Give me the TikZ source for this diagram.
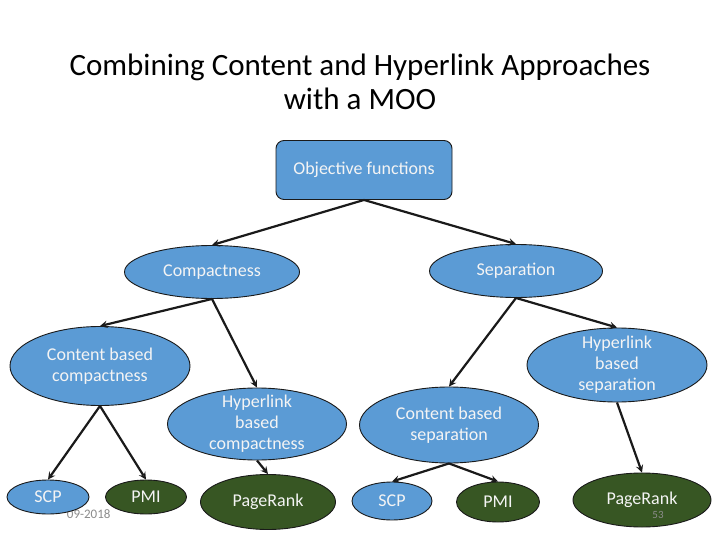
\documentclass[tikz,border=0pt]{standalone}
\usepackage{fontspec}
\setmainfont{Carlito}
\usetikzlibrary{shapes.geometric}
\definecolor{boxblue}{HTML}{5B9BD5}
\definecolor{boxgreen}{HTML}{375623}
\definecolor{edgeline}{HTML}{1A1A1A}
\definecolor{boxtext}{HTML}{F4F4F4}
\definecolor{footgray}{HTML}{8C8C8C}
\begin{document}
\begin{tikzpicture}[x=1pt,y=-1pt,
  bluebox/.style={ellipse,draw=edgeline,line width=0.9pt,fill=boxblue,text=boxtext,align=center,inner xsep=0pt,inner ysep=-12pt,font=\fontsize{18}{21}\selectfont},
  greenbox/.style={bluebox,fill=boxgreen},
  link/.style={->,>=stealth,line width=2.2pt,edgeline}]
\useasboundingbox[fill=white] (0,0) rectangle (720,540);

\node[align=center,font=\fontsize{31}{34}\selectfont] (title) at (360,82) {Combining Content and Hyperlink Approaches\\with a MOO};

\node[draw=edgeline,line width=0.9pt,fill=boxblue,text=boxtext,rounded corners=8pt,minimum width=176pt,minimum height=59pt,font=\fontsize{18}{21}\selectfont] (obj) at (364,170) {Objective functions};

\node[bluebox,minimum width=175pt,minimum height=53pt] (comp) at (212,272) {Compactness};
\node[bluebox,minimum width=173pt,minimum height=53pt] (sep) at (516,271) {Separation};

\node[bluebox,minimum width=180pt,minimum height=79pt] (cbc) at (100,366) {Content based\\compactness};
\node[bluebox,minimum width=179pt,minimum height=72pt] (hbc) at (257,424) {Hyperlink\\based\\compactness};
\node[bluebox,minimum width=179pt,minimum height=76pt] (cbs) at (449,425) {Content based\\separation};
\node[bluebox,minimum width=180pt,minimum height=74pt] (hbs) at (617,365) {Hyperlink\\based\\separation};

\node[anchor=east,text=footgray,font=\fontsize{13}{15}\selectfont] (date) at (114,514) {09-2018};

\node[bluebox,minimum width=82pt,minimum height=34pt] (scpa) at (48,497) {SCP};
\node[greenbox,minimum width=81pt,minimum height=34pt] (pmia) at (146,497) {PMI};
\node[greenbox,minimum width=135pt,minimum height=55pt] (pra) at (268,502) {PageRank};
\node[bluebox,minimum width=80pt,minimum height=38pt] (scpb) at (392,501) {SCP};
\node[greenbox,minimum width=83pt,minimum height=40pt] (pmib) at (498,502) {PMI};
\node[greenbox,minimum width=138pt,minimum height=54pt] (prb) at (642,500) {PageRank};

\node[text=footgray,font=\fontsize{11}{13}\selectfont] (pagenum) at (658,515) {53};

\draw[link] (obj.south) -- (comp.north);
\draw[link] (obj.south) -- (sep.north);
\draw[link] (comp.south) -- (cbc.north);
\draw[link] (comp.south) -- (hbc.north);
\draw[link] (sep.south) -- (cbs.north);
\draw[link] (sep.south) -- (hbs.north);
\draw[link] (cbc.south) -- (scpa.north);
\draw[link] (cbc.south) -- (pmia.north);
\draw[link] (hbc.south) -- (pra.north);
\draw[link] (cbs.south) -- (scpb.north);
\draw[link] (cbs.south) -- (pmib.north);
\draw[link] (hbs.south) -- (prb.north);
\end{tikzpicture}
\end{document}
